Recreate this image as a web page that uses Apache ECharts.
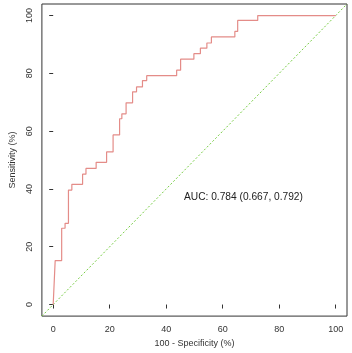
<!DOCTYPE html>
<html>
<head>
<meta charset="utf-8">
<script src="https://cdn.jsdelivr.net/npm/echarts@6/dist/echarts.min.js"></script>
<style>
  html, body { margin: 0; padding: 0; background: #fff; }
  #chart { width: 352px; height: 353px; }
</style>
</head>
<body>
<div id="chart"></div>
<script>
// 100 - specificity (%) at each step corner, and sensitivity (%)
const fpr = [0, 0.7, 3.0, 4.2, 5.4, 6.6, 10.4, 11.6, 15.2, 18.9, 21.2, 23.5, 24.3, 25.8, 28.1, 29.5, 31.6, 33.1, 43.7, 45.1, 49.8, 52.1, 54.4, 56.0, 64.3, 65.3, 72.4, 100]
const sens = [0, 15.2, 26.4, 28.1, 39.6, 41.6, 45.1, 47.1, 49.2, 52.8, 58.7, 64.3, 66.0, 69.8, 73.6, 75.3, 77.5, 79.2, 81.1, 84.9, 86.8, 88.7, 90.5, 92.6, 94.5, 98.3, 100, 100]
const tickValues = [0, 20, 40, 60, 80, 100]
const diagonal = [[-4, -4], [104, 104]]
const aucText = 'AUC: 0.784 (0.667, 0.792)'

const font = '"Liberation Sans", Arial, sans-serif'
const chart = echarts.init(document.getElementById('chart'))

const axisCommon = {
  type: 'value',
  min: -4,
  max: 104,
  nameLocation: 'middle',
  nameTextStyle: { color: '#333', fontSize: 9, fontFamily: font },
  axisLine: { show: false },
  axisTick: {
    show: true,
    inside: false,
    length: 4,
    customValues: tickValues,
    lineStyle: { color: '#333', width: 1 }
  },
  axisLabel: {
    customValues: tickValues,
    color: '#333',
    fontSize: 9,
    fontFamily: font
  },
  splitLine: { show: false }
}

const option = {
  animation: false,
  backgroundColor: '#fff',
  grid: {
    show: true,
    left: 36,
    right: 5,
    top: 4,
    bottom: 35,
    borderColor: '#333',
    borderWidth: 1
  },
  xAxis: Object.assign({}, axisCommon, {
    name: '100 - Specificity (%)',
    nameGap: 20,
    axisLabel: Object.assign({}, axisCommon.axisLabel, { margin: 9 })
  }),
  yAxis: Object.assign({}, axisCommon, {
    name: 'Sensitivity (%)',
    nameGap: 24,
    axisLabel: Object.assign({}, axisCommon.axisLabel, { rotate: 90, margin: 8 })
  }),
  series: [
    {
      type: 'line',
      data: diagonal,
      symbol: 'none',
      silent: true,
      lineStyle: { color: '#77cc44', width: 1, type: [2, 2] }
    },
    {
      type: 'line',
      data: fpr.map((x, i) => [x, sens[i]]),
      step: 'end',
      symbol: 'none',
      lineStyle: { color: '#e48c88', width: 1.2 }
    }
  ],
  graphic: [
    {
      type: 'text',
      left: 184,
      top: 192,
      style: {
        text: aucText,
        fill: '#222',
        fontSize: 10.2,
        fontFamily: font
      }
    }
  ]
}

chart.setOption(option)
</script>
</body>
</html>
